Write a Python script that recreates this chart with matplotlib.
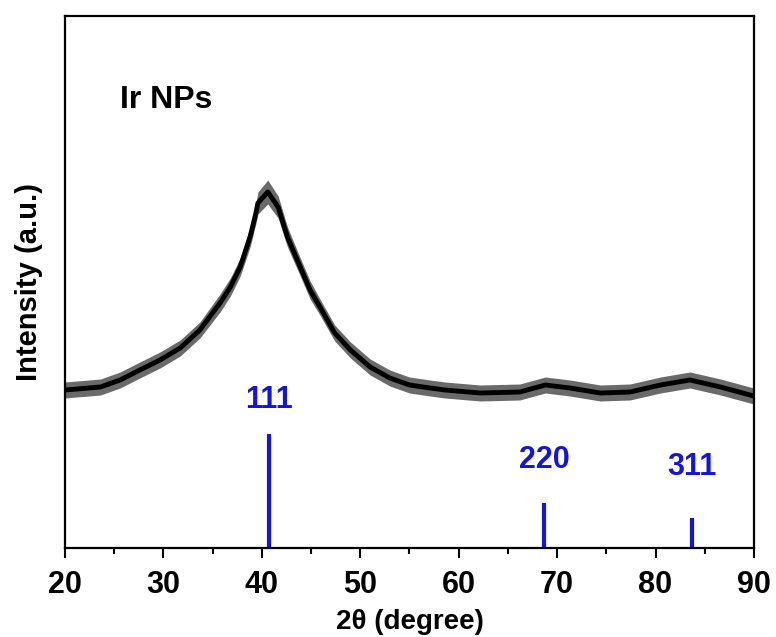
import matplotlib
matplotlib.use('Agg')
import matplotlib.pyplot as plt
from matplotlib.ticker import MultipleLocator

plt.rcParams['font.family'] = ['Liberation Sans', 'DejaVu Sans']
plt.rcParams['font.weight'] = 'bold'

# XRD profile (2theta, intensity a.u.)
two_theta = [20, 23.6, 25.6, 27.6, 29.65, 31.7, 33.7, 35.75, 36.8, 37.8, 38.8,
             39.4, 39.6, 40.6, 41.65, 42.6, 43.9, 44.9, 45.9, 47.4, 49, 51,
             53, 55, 57.1, 58.6, 62.2, 66.2, 68.8, 71.3, 74.4, 77.4, 80.5,
             83.5, 86.6, 89.6, 90]
intensity = [158, 161, 168, 178, 188, 200, 218, 245, 261, 281, 311,
             335, 345, 356, 341, 311, 281, 258, 241, 215, 198, 181,
             170, 163, 160, 158, 155, 156, 163, 160, 155, 156, 163,
             168, 161, 153, 152]
# approximate half-width of the noise band at each point
noise = [8, 8, 8, 8, 8, 8, 8, 9, 9, 9, 10,
         10, 11, 12, 11, 10, 9, 9, 8, 8, 8, 8,
         8, 8, 8, 8, 8, 8, 8, 8, 8, 8, 8,
         8, 8, 8, 8]

# reference Ir lines
hkl = ['111', '220', '311']
ref_pos = [40.7, 68.7, 83.7]
ref_int = [114, 45, 30]
label_y = [148, 88, 81]

fig = plt.figure(figsize=(7.76, 6.37), dpi=100)
ax = fig.add_axes([0.0838, 0.1397, 0.8878, 0.8352])

upper = [i + n for i, n in zip(intensity, noise)]
lower = [i - n for i, n in zip(intensity, noise)]
ax.fill_between(two_theta, lower, upper, color='#6a6a6a', lw=0)
ax.plot(two_theta, intensity, color='black', lw=3.5)

ax.vlines(ref_pos, 0, ref_int, color='#1515d8', lw=3)
for lab, x, y in zip(hkl, ref_pos, label_y):
    ax.text(x, y, lab, color='#1515d8', fontsize=22, fontweight='bold',
            ha='center', va='center')

ax.text(25.6, 448, 'Ir NPs', fontsize=23, fontweight='bold', va='center')

ax.set_xlim(20, 90)
ax.set_ylim(0, 532)
ax.xaxis.set_major_locator(MultipleLocator(10))
ax.xaxis.set_minor_locator(MultipleLocator(5))
ax.set_yticks([])
ax.tick_params(axis='x', which='major', direction='out', length=7, width=1.5,
               labelsize=22, pad=9)
ax.tick_params(axis='x', which='minor', direction='out', length=4, width=1.5)
for s in ax.spines.values():
    s.set_linewidth(1.6)

ax.set_xlabel('2θ (degree)', fontsize=20, fontweight='bold', labelpad=6)
ax.set_ylabel('Intensity (a.u.)', fontsize=21, fontweight='bold', labelpad=16)

plt.savefig('out.png', dpi=100)
